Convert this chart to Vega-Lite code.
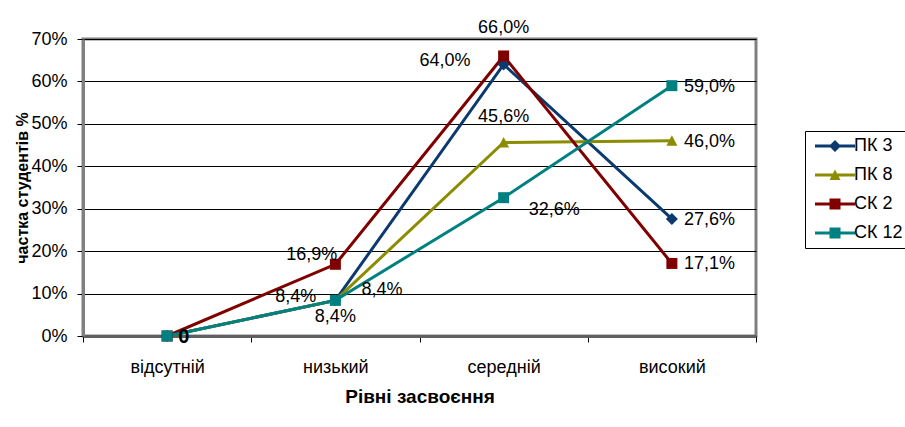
{
  "$schema": "https://vega.github.io/schema/vega-lite/v6.json",
  "width": 673,
  "height": 297,
  "autosize": {"type": "none"},
  "padding": {"left": 83, "top": 39, "right": 149, "bottom": 91},
  "background": "white",
  "data": {
    "values": [
      {"level": "відсутній", "series": "ПК 3", "v": 0},
      {"level": "низький", "series": "ПК 3", "v": 0.084},
      {"level": "середній", "series": "ПК 3", "v": 0.64},
      {"level": "високий", "series": "ПК 3", "v": 0.276},
      {"level": "відсутній", "series": "ПК 8", "v": 0},
      {"level": "низький", "series": "ПК 8", "v": 0.084},
      {"level": "середній", "series": "ПК 8", "v": 0.456},
      {"level": "високий", "series": "ПК 8", "v": 0.46},
      {"level": "відсутній", "series": "СК 2", "v": 0},
      {"level": "низький", "series": "СК 2", "v": 0.169},
      {"level": "середній", "series": "СК 2", "v": 0.66},
      {"level": "високий", "series": "СК 2", "v": 0.171},
      {"level": "відсутній", "series": "СК 12", "v": 0},
      {"level": "низький", "series": "СК 12", "v": 0.084},
      {"level": "середній", "series": "СК 12", "v": 0.326},
      {"level": "високий", "series": "СК 12", "v": 0.59}
    ]
  },
  "config": {
    "font": "Liberation Sans",
    "locale": {"number": {"decimal": ",", "thousands": " ", "grouping": [3], "currency": ["", " грн"]}},
    "view": {"stroke": "#808080", "strokeWidth": 3},
    "axis": {
      "labelFont": "Liberation Sans",
      "labelFontSize": 18,
      "labelColor": "black",
      "titleFont": "Liberation Sans",
      "titleColor": "black",
      "titleFontWeight": "bold",
      "tickColor": "black",
      "tickWidth": 1,
      "tickSize": 6
    },
    "legend": {
      "title": null,
      "orient": "none",
      "legendX": 722,
      "legendY": 92,
      "strokeColor": "black",
      "strokeWidth": 1,
      "fillColor": "white",
      "padding": 6,
      "labelFont": "Liberation Sans",
      "labelFontSize": 18,
      "labelColor": "black",
      "symbolSize": 100,
      "symbolOffset": 15,
      "symbolStrokeWidth": 0,
      "labelOffset": 10,
      "rowPadding": 11
    },
    "text": {"font": "Liberation Sans", "fontSize": 18, "color": "black"}
  },
  "encoding": {
    "x": {
      "field": "level",
      "type": "nominal",
      "sort": ["відсутній", "низький", "середній", "високий"],
      "scale": {"type": "band", "paddingInner": 0, "paddingOuter": 0},
      "axis": {
        "title": "Рівні засвоєння",
        "titleFontSize": 19,
        "titlePadding": 11,
        "labelAngle": 0,
        "labelPadding": 16,
        "tickBand": "extent",
        "domainColor": "#606060",
        "domainWidth": 3,
        "grid": false
      }
    },
    "y": {
      "field": "v",
      "type": "quantitative",
      "scale": {"domain": [0, 0.7], "nice": false},
      "axis": {
        "title": "частка студентів %",
        "titleFontSize": 16,
        "titlePadding": 0,
        "format": "0%",
        "values": [0, 0.1, 0.2, 0.3, 0.4, 0.5, 0.6, 0.7],
        "labelPadding": 10,
        "domainColor": "#808080",
        "domainWidth": 3,
        "grid": true,
        "gridColor": "black",
        "gridWidth": 1,
        "gridOpacity": 1
      }
    }
  },
  "layer": [
    {
      "mark": {"type": "line", "strokeWidth": 3},
      "encoding": {
        "color": {
          "field": "series",
          "type": "nominal",
          "scale": {
            "domain": ["ПК 3", "ПК 8", "СК 2", "СК 12"],
            "range": ["#0B3A6F", "#8C8C00", "#800000", "#008080"]
          },
          "legend": {
            "symbolType": {"expr": "(datum.value === 'ПК 3' ? 'M0,-1.2L1.2,0L0,1.2L-1.2,0Z' : datum.value === 'ПК 8' ? 'M0,-1.1L1.1,1L-1.1,1Z' : 'M-1.1,-1.1H1.1V1.1H-1.1Z') + ' M-4,-0.3H4V0.3H-4Z'"},
            "symbolFillColor": {"expr": "scale('color', datum.value)"}
          }
        }
      }
    },
    {
      "transform": [{"filter": "datum.series === 'ПК 3'"}],
      "mark": {"type": "point", "filled": true, "opacity": 1, "size": 100, "shape": "M0,-1.2L1.2,0L0,1.2L-1.2,0Z"},
      "encoding": {"color": {"field": "series", "type": "nominal"}}
    },
    {
      "transform": [{"filter": "datum.series === 'ПК 8'"}],
      "mark": {"type": "point", "filled": true, "opacity": 1, "size": 100, "shape": "M0,-1.1L1.1,1L-1.1,1Z"},
      "encoding": {"color": {"field": "series", "type": "nominal"}}
    },
    {
      "transform": [{"filter": "datum.series === 'СК 2' || datum.series === 'СК 12'"}],
      "mark": {"type": "point", "filled": true, "opacity": 1, "size": 100, "shape": "M-1.1,-1.1H1.1V1.1H-1.1Z"},
      "encoding": {"color": {"field": "series", "type": "nominal"}}
    },
    {
      "transform": [{"filter": "datum.level === 'високий'"}],
      "mark": {"type": "text", "align": "left", "baseline": "middle", "dx": 12, "dy": 1},
      "encoding": {"text": {"field": "v", "format": ".1%"}}
    },
    {
      "transform": [{"filter": "datum.level === 'середній' && datum.series === 'СК 2'"}],
      "mark": {"type": "text", "align": "center", "baseline": "middle", "dy": -28},
      "encoding": {"text": {"field": "v", "format": ".1%"}}
    },
    {
      "transform": [{"filter": "datum.level === 'середній' && datum.series === 'ПК 3'"}],
      "mark": {"type": "text", "align": "right", "baseline": "middle", "dx": -33, "dy": -3},
      "encoding": {"text": {"field": "v", "format": ".1%"}}
    },
    {
      "transform": [{"filter": "datum.level === 'середній' && datum.series === 'ПК 8'"}],
      "mark": {"type": "text", "align": "center", "baseline": "middle", "dy": -26},
      "encoding": {"text": {"field": "v", "format": ".1%"}}
    },
    {
      "transform": [{"filter": "datum.level === 'середній' && datum.series === 'СК 12'"}],
      "mark": {"type": "text", "align": "left", "baseline": "middle", "dx": 25, "dy": 12},
      "encoding": {"text": {"field": "v", "format": ".1%"}}
    },
    {
      "transform": [{"filter": "datum.level === 'низький' && datum.series === 'СК 2'"}],
      "mark": {"type": "text", "align": "right", "baseline": "middle", "dx": 2, "dy": -9},
      "encoding": {"text": {"field": "v", "format": ".1%"}}
    },
    {
      "transform": [{"filter": "datum.level === 'низький' && datum.series === 'ПК 3'"}],
      "mark": {"type": "text", "align": "right", "baseline": "middle", "dx": -19, "dy": -3},
      "encoding": {"text": {"field": "v", "format": ".1%"}}
    },
    {
      "transform": [{"filter": "datum.level === 'низький' && datum.series === 'ПК 8'"}],
      "mark": {"type": "text", "align": "left", "baseline": "middle", "dx": 26, "dy": -10},
      "encoding": {"text": {"field": "v", "format": ".1%"}}
    },
    {
      "transform": [{"filter": "datum.level === 'низький' && datum.series === 'СК 12'"}],
      "mark": {"type": "text", "align": "center", "baseline": "middle", "dy": 17},
      "encoding": {"text": {"field": "v", "format": ".1%"}}
    },
    {
      "transform": [{"filter": "datum.level === 'відсутній' && datum.series === 'ПК 3'"}],
      "mark": {"type": "text", "align": "left", "baseline": "middle", "dx": 11, "dy": 1, "fontWeight": "bold", "fontSize": 20},
      "encoding": {"text": {"field": "v", "format": "d"}}
    }
  ]
}
